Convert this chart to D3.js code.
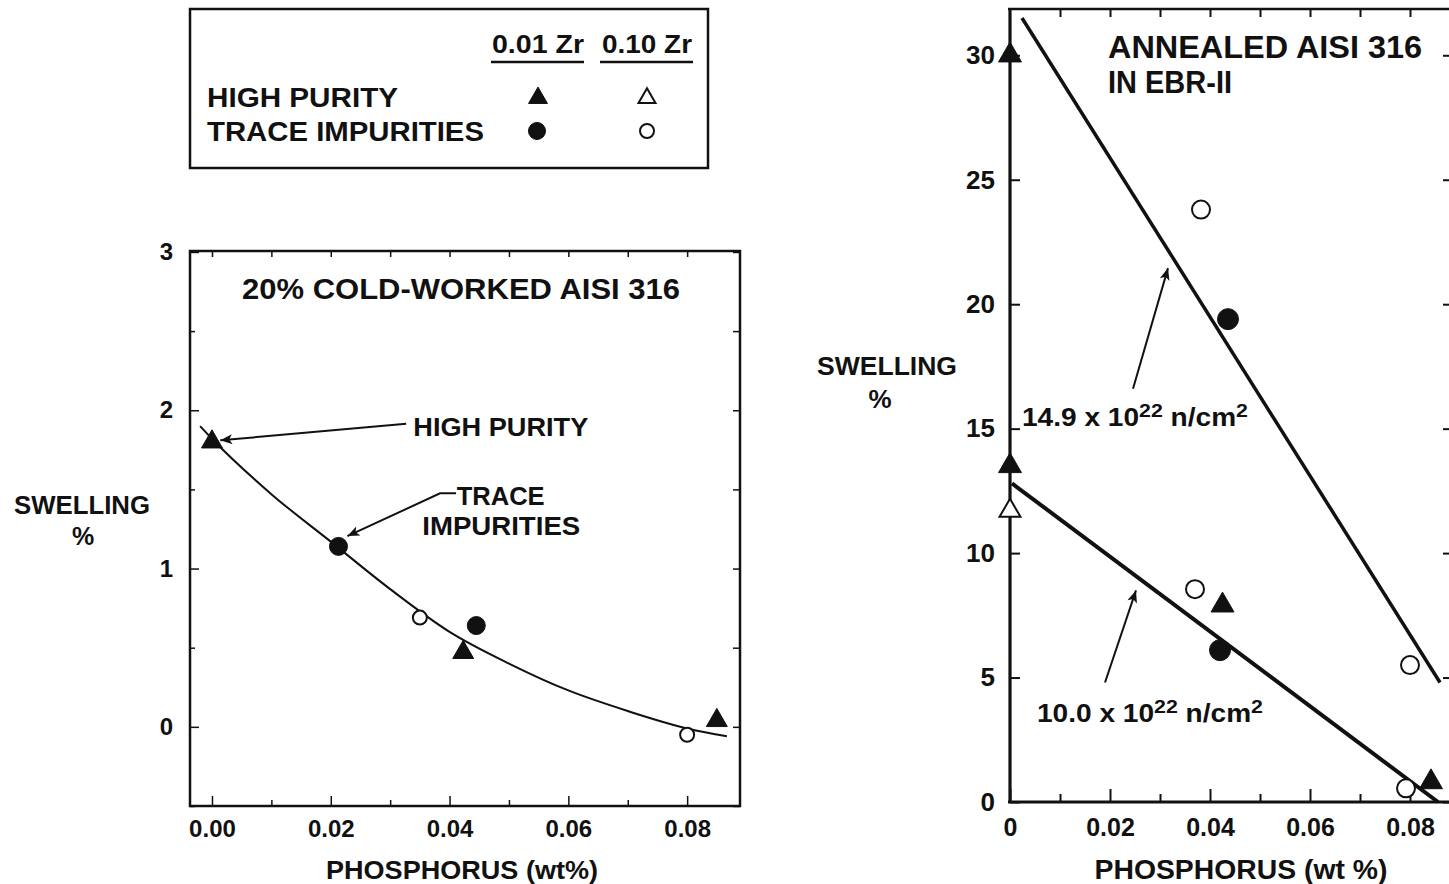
<!DOCTYPE html>
<html>
<head>
<meta charset="utf-8">
<script src="https://cdn.jsdelivr.net/npm/d3@7"></script>
<style>
  body { margin: 0; background: #fff; }
  svg { display: block; }
  text { fill: #111; }
</style>
</head>
<body>
<svg id="chart" width="1449" height="884"></svg>
<script>
// ---------- legend ----------
const legendRows = ["HIGH PURITY", "TRACE IMPURITIES"];
const legendCols = ["0.01 Zr", "0.10 Zr"];

// ---------- 20% cold-worked AISI 316 (phosphorus wt%, swelling %) ----------
const cwXTicks = [0, 0.02, 0.04, 0.06, 0.08];
const cwXTickLabels = ["0.00", "0.02", "0.04", "0.06", "0.08"];
const cwXMinor = [0.01, 0.03, 0.05, 0.07];
const cwYTicks = [0, 1, 2, 3];
const cwYMinor = [-0.5, 0.5, 1.5, 2.5];
const cwHighPurity01 = [[0, 1.80], [0.0423, 0.47], [0.085, 0.04]];
const cwTrace01 = [[0.0213, 1.14], [0.0445, 0.64]];
const cwTrace10 = [[0.035, 0.69], [0.080, -0.05]];
const cwFit = [[-0.002, 1.90], [0, 1.82], [0.01, 1.47], [0.02, 1.17], [0.03, 0.87],
               [0.04, 0.60], [0.05, 0.40], [0.06, 0.23], [0.07, 0.10],
               [0.08, -0.01], [0.0867, -0.06]];

// ---------- annealed AISI 316 in EBR-II ----------
const anXTicks = [0, 0.02, 0.04, 0.06, 0.08];
const anXTickLabels = ["0", "0.02", "0.04", "0.06", "0.08"];
const anXMinor = [0.01, 0.03, 0.05, 0.07];
const anYTicks = [0, 5, 10, 15, 20, 25, 30];
const anHighPurity01 = [[0, 30.0], [0, 13.5], [0.0425, 7.9], [0.0842, 0.8]];
const anHighPurity10 = [[0, 11.7]];
const anTrace01 = [[0.0436, 19.4], [0.042, 6.1]];
const anTrace10 = [[0.0382, 23.8], [0.080, 5.5], [0.037, 8.55], [0.0792, 0.55]];
const anFitHigh = [[0.0024, 31.5], [0.086, 4.8]];   // 14.9 x 10^22 n/cm^2
const anFitLow = [[0.0004, 12.8], [0.0856, 0]];     // 10.0 x 10^22 n/cm^2

const FONT = '"Liberation Sans", Arial, Helvetica, sans-serif';
const INK = "#111";

const svg = d3.select("#chart");

svg.append("defs").append("marker")
  .attr("id", "arrow")
  .attr("viewBox", "0 0 12 10")
  .attr("refX", 12).attr("refY", 5)
  .attr("markerWidth", 15).attr("markerHeight", 10)
  .attr("markerUnits", "userSpaceOnUse")
  .attr("orient", "auto")
  .append("path").attr("d", "M0,0 L12,5 L0,10 L3,5 Z").attr("fill", INK);

// bold label, optionally widened to a set length (the lettering is a broad grotesque)
function label(g, x, y, text, size, width, anchor) {
  const t = g.append("text").attr("x", x).attr("y", y)
    .attr("font-family", FONT).attr("font-weight", "bold").attr("font-size", size)
    .attr("text-anchor", anchor || "start").text(text);
  if (width) t.attr("textLength", width).attr("lengthAdjust", "spacingAndGlyphs");
  return t;
}

function drawMarks(g, x, y, data, kind, filled, size) {
  const sel = g.selectAll(null).data(data).enter();
  if (kind === "tri") {
    sel.append("path")
      .attr("d", d3.symbol(d3.symbolTriangle, size * size * 0.43)())
      .attr("transform", d => `translate(${x(d[0])},${y(d[1])})`)
      .attr("fill", filled ? INK : "#fff")
      .attr("stroke", INK).attr("stroke-width", filled ? 1 : 2);
  } else {
    sel.append("circle")
      .attr("cx", d => x(d[0])).attr("cy", d => y(d[1]))
      .attr("r", filled ? size / 2 : size / 2 - 1)
      .attr("fill", filled ? INK : "#fff")
      .attr("stroke", INK).attr("stroke-width", filled ? 1 : 2);
  }
}

// ================= legend box =================
(function legend() {
  const g = svg.append("g");
  g.append("rect").attr("x", 190).attr("y", 9).attr("width", 518).attr("height", 159)
    .attr("fill", "none").attr("stroke", INK).attr("stroke-width", 2.5);
  const colX = [538, 647];
  const colW = [92, 90];
  legendCols.forEach((c, i) => {
    label(g, colX[i], 53, c, 25, colW[i], "middle");
    g.append("line").attr("x1", colX[i] - 47).attr("x2", colX[i] + 46)
      .attr("y1", 62).attr("y2", 62).attr("stroke", INK).attr("stroke-width", 2.5);
  });
  const rowY = [97, 131];
  const rowW = [191, 277];
  legendRows.forEach((r, i) => label(g, 207, rowY[i] + 10, r, 27, rowW[i]));
  drawMarks(g, () => colX[0], () => rowY[0] + 1, [[0, 0]], "tri", true, 19);
  drawMarks(g, () => colX[1], () => rowY[0] + 1, [[0, 0]], "tri", false, 17);
  drawMarks(g, () => colX[0] - 1, () => rowY[1], [[0, 0]], "circ", true, 17);
  drawMarks(g, () => colX[1], () => rowY[1], [[0, 0]], "circ", false, 16);
})();

// ================= cold-worked panel =================
(function coldWorked() {
  const x = d3.scaleLinear().domain([-0.0037, 0.0889]).range([190, 740]);
  const y = d3.scaleLinear().domain([-0.5, 3.006]).range([806, 251]);
  const g = svg.append("g");

  // inward ticks on all four sides
  const axB = d3.axisBottom(x).tickValues(cwXTicks).tickSize(-10).tickPadding(14)
    .tickFormat((d, i) => cwXTickLabels[i]);
  const gb = g.append("g").attr("transform", "translate(0,806)").call(axB);
  gb.select(".domain").remove();
  gb.selectAll("text").attr("font-family", FONT).attr("font-weight", "bold")
    .attr("font-size", 24).attr("fill", INK);
  g.append("g").attr("transform", "translate(0,806)")
    .call(d3.axisBottom(x).tickValues(cwXMinor).tickSize(-6).tickFormat(""))
    .select(".domain").remove();
  g.append("g").attr("transform", "translate(0,251)")
    .call(d3.axisTop(x).tickValues(cwXTicks.concat(cwXMinor)).tickSize(-6).tickFormat(""))
    .select(".domain").remove();

  const axL = d3.axisLeft(y).tickValues(cwYTicks).tickSize(-9).tickPadding(17).tickFormat(d3.format("d"));
  const gl = g.append("g").attr("transform", "translate(190,0)").call(axL);
  gl.select(".domain").remove();
  gl.selectAll("text").attr("font-family", FONT).attr("font-weight", "bold")
    .attr("font-size", 24).attr("fill", INK);
  g.append("g").attr("transform", "translate(190,0)")
    .call(d3.axisLeft(y).tickValues(cwYMinor).tickSize(-5).tickFormat(""))
    .select(".domain").remove();
  g.append("g").attr("transform", "translate(740,0)")
    .call(d3.axisRight(y).tickValues(cwYTicks.concat(cwYMinor)).tickSize(-7).tickFormat(""))
    .select(".domain").remove();
  g.selectAll(".tick line").attr("stroke", INK).attr("stroke-width", 1.5);

  g.append("rect").attr("x", 190).attr("y", 251).attr("width", 550).attr("height", 555)
    .attr("fill", "none").attr("stroke", INK).attr("stroke-width", 2.5);

  label(g, 461, 299, "20% COLD-WORKED AISI 316", 29, 438, "middle");
  label(g, 82, 514, "SWELLING", 25, 136, "middle");
  label(g, 83, 545, "%", 25, null, "middle");
  label(g, 462, 879, "PHOSPHORUS (wt%)", 26, 272, "middle");

  g.append("path").datum(cwFit)
    .attr("d", d3.line().x(d => x(d[0])).y(d => y(d[1])).curve(d3.curveMonotoneX))
    .attr("fill", "none").attr("stroke", INK).attr("stroke-width", 2);

  drawMarks(g, x, y, cwHighPurity01, "tri", true, 21);
  drawMarks(g, x, y, cwTrace01, "circ", true, 18);
  drawMarks(g, x, y, cwTrace10, "circ", false, 16);

  // callouts
  const line = d3.line().x(d => x(d[0])).y(d => y(d[1]));
  g.append("path").datum([[0.0327, 1.915], [0.0014, 1.81]]).attr("d", line)
    .attr("fill", "none").attr("stroke", INK).attr("stroke-width", 2).attr("marker-end", "url(#arrow)");
  g.append("path").datum([[0.0411, 1.475], [0.0384, 1.475], [0.0228, 1.205]]).attr("d", line)
    .attr("fill", "none").attr("stroke", INK).attr("stroke-width", 2).attr("marker-end", "url(#arrow)");
  label(g, x(0.0339), y(1.84), "HIGH PURITY", 26, 175);
  label(g, x(0.0412), y(1.40), "TRACE", 26, 88);
  label(g, x(0.0354), y(1.21), "IMPURITIES", 26, 158);
})();

// ================= annealed panel =================
(function annealed() {
  const x = d3.scaleLinear().domain([0, 0.0884]).range([1010, 1452]);
  const y = d3.scaleLinear().domain([0, 31.9]).range([802, 8]);
  const g = svg.append("g");

  const axB = d3.axisBottom(x).tickValues(anXTicks).tickSize(-13).tickPadding(16)
    .tickFormat((d, i) => anXTickLabels[i]);
  const gb = g.append("g").attr("transform", "translate(0,802)").call(axB);
  gb.select(".domain").remove();
  gb.selectAll("text").attr("font-family", FONT).attr("font-weight", "bold")
    .attr("font-size", 25).attr("fill", INK);
  g.append("g").attr("transform", "translate(0,802)")
    .call(d3.axisBottom(x).tickValues(anXMinor).tickSize(-8).tickFormat(""))
    .select(".domain").remove();
  g.append("g").attr("transform", "translate(0,9)")
    .call(d3.axisTop(x).tickValues(anXMinor.concat(anXTicks.slice(1))).tickSize(-8).tickFormat(""))
    .select(".domain").remove();

  const axL = d3.axisLeft(y).tickValues(anYTicks).tickSize(-10).tickPadding(15).tickFormat(d3.format("d"));
  const gl = g.append("g").attr("transform", "translate(1010,0)").call(axL);
  gl.select(".domain").remove();
  gl.selectAll("text").attr("font-family", FONT).attr("font-weight", "bold")
    .attr("font-size", 26).attr("fill", INK);
  g.append("g").attr("transform", "translate(1452,0)")
    .call(d3.axisRight(y).tickValues(anYTicks).tickSize(-9).tickFormat(""))
    .select(".domain").remove();
  g.selectAll(".tick line").attr("stroke", INK).attr("stroke-width", 2);

  // frame: left, bottom, top (the right edge lies just past the page)
  g.append("line").attr("x1", 1010).attr("x2", 1010).attr("y1", 8).attr("y2", 803)
    .attr("stroke", INK).attr("stroke-width", 3.2);
  g.append("line").attr("x1", 1008).attr("x2", 1452).attr("y1", 802).attr("y2", 802)
    .attr("stroke", INK).attr("stroke-width", 3.2);
  g.append("line").attr("x1", 1008).attr("x2", 1452).attr("y1", 9).attr("y2", 9)
    .attr("stroke", INK).attr("stroke-width", 2.5);

  label(g, 1108, 58, "ANNEALED AISI 316", 31, 314);
  label(g, 1108, 93, "IN EBR-II", 31, 124);
  label(g, 887, 375, "SWELLING", 26, 140, "middle");
  label(g, 880, 408, "%", 26, null, "middle");
  label(g, 1241, 879, "PHOSPHORUS (wt %)", 27, 293, "middle");

  const line = d3.line().x(d => x(d[0])).y(d => y(d[1]));
  g.append("path").datum(anFitHigh).attr("d", line)
    .attr("fill", "none").attr("stroke", INK).attr("stroke-width", 3.5);
  g.append("path").datum(anFitLow).attr("d", line)
    .attr("fill", "none").attr("stroke", INK).attr("stroke-width", 4);

  drawMarks(g, x, y, anHighPurity01, "tri", true, 23);
  drawMarks(g, x, y, anHighPurity10, "tri", false, 21);
  drawMarks(g, x, y, anTrace01, "circ", true, 21);
  drawMarks(g, x, y, anTrace10, "circ", false, 20);

  // fluence callouts
  g.append("path").datum([[0.0246, 16.6], [0.0316, 21.45]]).attr("d", line)
    .attr("fill", "none").attr("stroke", INK).attr("stroke-width", 2).attr("marker-end", "url(#arrow)");
  g.append("path").datum([[0.019, 4.8], [0.0252, 8.5]]).attr("d", line)
    .attr("fill", "none").attr("stroke", INK).attr("stroke-width", 2).attr("marker-end", "url(#arrow)");

  function fluence(xv, yv, lead) {
    const t = g.append("text").attr("x", x(xv)).attr("y", y(yv))
      .attr("font-family", FONT).attr("font-weight", "bold").attr("font-size", 25);
    t.append("tspan").text(lead + " x 10");
    t.append("tspan").attr("dy", -9).attr("font-size", 19).text("22");
    t.append("tspan").attr("dy", 9).text(" n/cm");
    t.append("tspan").attr("dy", -9).attr("font-size", 19).text("2");
    t.attr("textLength", 226).attr("lengthAdjust", "spacingAndGlyphs");
  }
  fluence(0.0024, 15.1, "14.9");
  fluence(0.0054, 3.2, "10.0");
})();
</script>
</body>
</html>
